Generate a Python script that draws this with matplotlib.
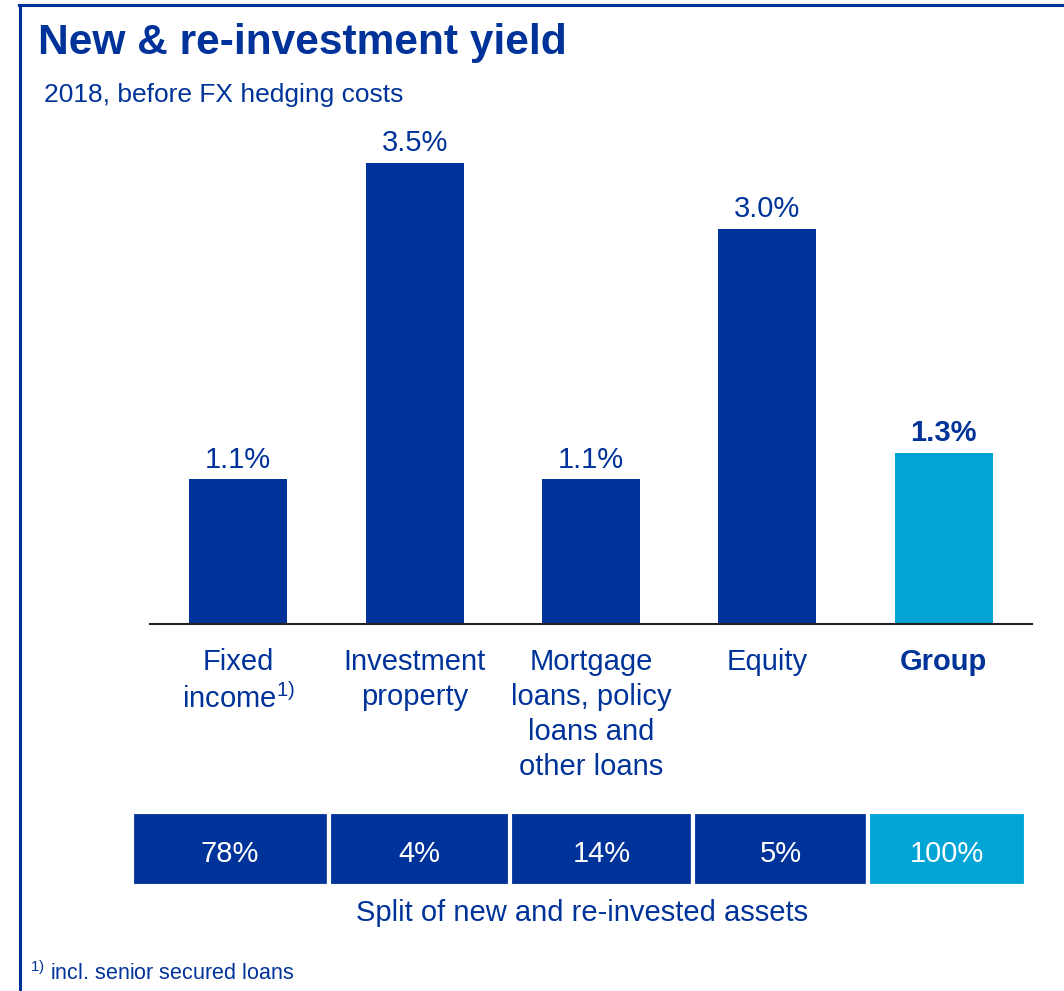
import matplotlib
matplotlib.use("Agg")
import matplotlib.pyplot as plt
from matplotlib.lines import Line2D

plt.rcParams['font.family'] = ['Liberation Sans', 'DejaVu Sans']
plt.rcParams['mathtext.fontset'] = 'custom'
plt.rcParams['mathtext.rm'] = 'Liberation Sans'
plt.rcParams['mathtext.default'] = 'regular'

# data
categories = ["Fixed\nincome$^{1)}$", "Investment\nproperty",
              "Mortgage\nloans, policy\nloans and\nother loans", "Equity", "Group"]
yields = [1.1, 3.5, 1.1, 3.0, 1.3]
split_labels = ["78%", "4%", "14%", "5%", "100%"]

DARK = "#003399"
LIGHT = "#00A5D6"
colors = [DARK, DARK, DARK, DARK, LIGHT]

W, H = 1064, 991
fig = plt.figure(figsize=(W / 100, H / 100), dpi=100)

def px(x0, y0, x1, y1):
    # pixel box (top-left origin) -> figure fraction rect
    return [x0 / W, 1 - y1 / H, (x1 - x0) / W, (y1 - y0) / H]

# frame lines
fig.add_artist(Line2D([19 / W, 1], [1 - 4.5 / H, 1 - 4.5 / H], color=DARK, lw=2.2,
                      transform=fig.transFigure))
fig.add_artist(Line2D([20 / W, 20 / W], [0, 1 - 4.5 / H], color=DARK, lw=2.2,
                      transform=fig.transFigure))

fig.text(38 / W, 1 - 43 / H, "New & re-investment yield", fontsize=30.6, fontweight='bold',
         color=DARK, va='center', ha='left')
fig.text(44 / W, 1 - 95 / H, "2018, before FX hedging costs", fontsize=19,
         color=DARK, va='center', ha='left')

# bar chart
ax = fig.add_axes(px(150, 120, 1032, 624))
x = range(len(yields))
bars = ax.bar(x, yields, width=0.556, color=colors)
ax.set_xlim(-0.5, 4.5)
ax.set_ylim(0, 504 / 131.7)
for s in ['top', 'right', 'left']:
    ax.spines[s].set_visible(False)
ax.spines['bottom'].set_color('#222222')
ax.spines['bottom'].set_linewidth(1.5)
ax.set_yticks([])
ax.set_xticks([])

for i, (b, v) in enumerate(zip(bars, yields)):
    bold = i == len(yields) - 1
    ax.annotate(f"{v:.1f}%", (b.get_x() + b.get_width() / 2, v), xytext=(0, 4),
                textcoords='offset points', ha='center', va='bottom', fontsize=21,
                color=DARK, fontweight='bold' if bold else 'normal')
    ax.annotate(categories[i], (i, 0), xytext=(0, -17), textcoords='offset points',
                ha='center', va='top', fontsize=21, color=DARK, linespacing=1.32,
                fontweight='bold' if bold else 'normal')

# split table
tab = fig.add_axes(px(131.5, 811.5, 1026.5, 885.5))
edges = [0, 197, 379, 562, 736.5, 895]
lefts = edges[:-1]
widths = [b - a for a, b in zip(edges[:-1], edges[1:])]
tab.bar(lefts, [1] * len(lefts), width=widths, align='edge', color=colors,
        edgecolor='white', linewidth=3)
for l, w, t in zip(lefts, widths, split_labels):
    tab.text(l + w / 2, 0.42, t, ha='center', va='center', color='white', fontsize=21)
tab.set_xlim(0, 895)
tab.set_ylim(0, 1)
tab.axis('off')

fig.text(582 / W, 1 - 913 / H, "Split of new and re-invested assets", fontsize=21,
         color=DARK, ha='center', va='center')
fig.text(30 / W, 1 - 973 / H, "$^{1)}$ incl. senior secured loans", fontsize=15.5,
         color=DARK, ha='left', va='center')

fig.savefig("out.png", dpi=100)
